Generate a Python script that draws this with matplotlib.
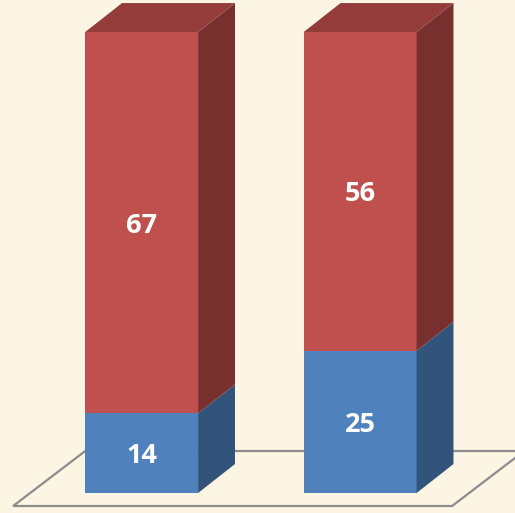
import matplotlib
matplotlib.use('Agg')
from matplotlib import pyplot as plt
from matplotlib.patches import Polygon
from matplotlib.transforms import offset_copy

# data
categories = ['A', 'B']
blue_vals = [14, 25]
red_vals = [67, 56]

bg = '#FCF5E3'
red_front, red_side, red_top = '#C0504D', '#78302F', '#943C3A'
blue_front, blue_side = '#4F81BD', '#32537A'

width = 0.517
ddx, ddy = 0.169, 5.1  # 3d depth offset in data units

fig = plt.figure(figsize=(5.15, 5.13), dpi=100, facecolor=bg)
ax = fig.add_axes([0, 0, 1, 1])
ax.set_facecolor(bg)
ax.set_xlim(-0.648, 1.709)
ax.set_ylim(-3.51, 86.64)
ax.axis('off')

# floor
fl, fr = -0.588, 1.421
fb, ft = -2.28, 7.38
ax.add_patch(Polygon([(fl, fb), (fr, fb), (fr + 0.33, ft), (fl + 0.33, ft)],
                     closed=True, facecolor=bg, edgecolor='#8C8C8C', lw=1.6, zorder=1))


def block(x, y0, y1, front, side, top=None):
    x0, x1 = x - width / 2, x + width / 2
    ax.add_patch(Polygon([(x0, y0), (x1, y0), (x1, y1), (x0, y1)],
                         closed=True, facecolor=front, lw=0, zorder=3))
    ax.add_patch(Polygon([(x1, y0), (x1 + ddx, y0 + ddy), (x1 + ddx, y1 + ddy), (x1, y1)],
                         closed=True, facecolor=side, lw=0, zorder=3))
    if top:
        ax.add_patch(Polygon([(x0, y1), (x1, y1), (x1 + ddx, y1 + ddy), (x0 + ddx, y1 + ddy)],
                             closed=True, facecolor=top, lw=0, zorder=3))


# baseline sits ~half a digit height below the segment centre
lbl_tr = offset_copy(ax.transData, fig=fig, x=0, y=-10, units='dots')
lbl_kw = dict(ha='center', va='baseline', color='white', fontsize=19.5,
              fontweight='bold', family=['Open Sans', 'DejaVu Sans'], zorder=4,
              transform=lbl_tr)

for i, cat in enumerate(categories):
    b = blue_vals[i]
    r = red_vals[i]
    block(i, 0, b, blue_front, blue_side)
    block(i, b, b + r, red_front, red_side, red_top)
    ax.text(i, b / 2, str(b), **lbl_kw)
    ax.text(i, b + r / 2, str(r), **lbl_kw)

fig.savefig('out.png', dpi=100, facecolor=bg)
